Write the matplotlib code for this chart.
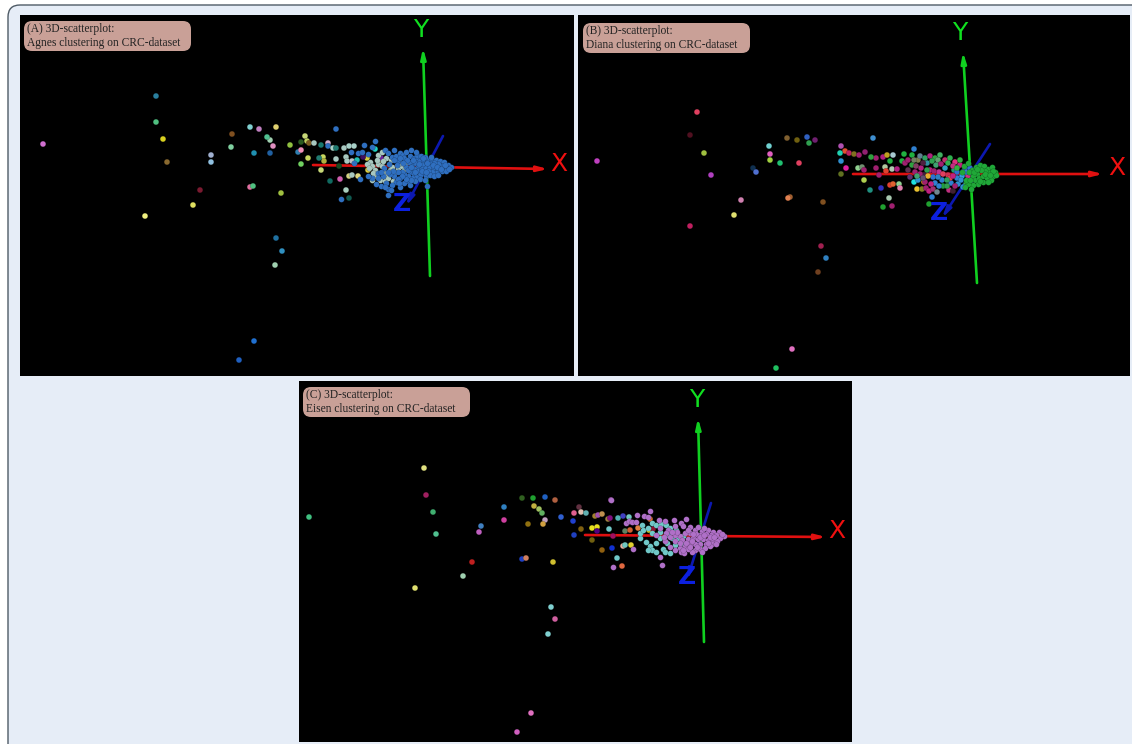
import matplotlib
matplotlib.use("Agg")
import matplotlib.pyplot as plt
from matplotlib.patches import FancyBboxPatch

# points, in image pixels of each panel
a_sparse = [(43,144),(156,96),(156,122),(163,139),(167,162),(145,216),(193,205),(200,190),(211,155),(211,162),
    (232,134),(231,147),(250,127),(259,129),(276,127),(270,140),(267,137),(273,146),(254,153),(270,153),
    (290,145),(250,187),(253,186),(281,193),(276,238),(282,251),(275,265),(254,341),(239,360),
    (336,129),(305,136),(307,141),(301,142),(309,143),(314,143),(321,145),(328,143),(328,146),(333,148),(336,148),
    (344,148),(349,146),(354,146),(375,149),(298,152),(301,150),(308,158),(301,164),(323,157),(324,161),
    (319,158),(336,159),(346,157),(347,161),(352,161),(357,160),(321,170),(339,166),(340,179),(330,181),
    (349,176),(352,175),(358,176),(346,190),(349,198),(368,170),(367,158),(363,157),(379,161),(381,158)]
a_sparse_colors = ["#d070d0","#2a7f9e","#50c080","#d8d020","#8a6a30","#f0f080","#e0e060","#7a1a30","#a0b0d0","#90c0e0",
    "#805020","#80d0a0","#80d0d0","#c080c0","#e0d070","#a0d0b0","#50c090","#e090c0","#2090b0","#2060a0",
    "#90c040","#e070a0","#50c080","#a0c040","#2070a0","#3090c0","#a0d0b0","#2070d0","#2060c0",
    "#2f6fc0","#c8d878","#c0d060","#2a5a20","#7a5a20","#a8c8c0","#1a7a70","#d0a8c8","#2f6fc0","#a8d0c8","#207a70",
    "#a8c8c0","#a8d0c8","#a8d0c8","#20d0c0","#2f7fb0","#f090b8","#c8d860","#70d060","#c8d860","#b0b040",
    "#207a70","#a8c8c0","#a8c8c0","#a8c8c0","#b8c0c8","#20c0b0","#c8d878","#1a4a20","#d060b0","#106a60",
    "#d0d080","#a8c8c0","#e0d880","#a8d0c0","#105a50","#e0d040","#d8d040","#401060","#707020","#7020a0"]
a_blue = [(351,152),(358,153),(362,152),(368,154),(364,145),(372,147),(375,141),(354,163),(360,179),(341,199),
    (388,189),(388,195),(385,150),(388,153),(392,157),(396,156),(400,153),(403,155),(406,152),(411,150),
    (398,161),(404,158),(410,156),(414,158),(418,159),(412,165),(416,163),(420,161),(424,161),(428,160),
    (432,160),(436,160),(440,161),(444,162),(448,165),(451,167),(446,168),(442,166),(438,164),(434,163),
    (430,164),(426,164),(422,165),(418,167),(414,169),(410,172),(414,174),(418,171),(422,169),(426,168),
    (430,167),(434,168),(438,170),(442,171),(446,171),(436,173),(432,172),(428,171),(424,173),(420,175),
    (416,177),(412,178),(408,176),(404,174),(400,178),(396,182),(392,185),(386,183),(381,186),(376,184),
    (408,181),(404,183),(410,185),(426,176),(430,175),(434,176),(438,175),(420,179),(425,180),(415,181),
    (402,172),(398,172),(394,176),(390,174),(406,167),(409,162),(413,160),(417,155),(421,156),(425,157),
    (431,157),(427,186),(411,180),(394,160),(389,164),(383,176),(378,173),(400,187),(416,152),(394,150),
    (400,158),(407,160),(403,163),(397,165),(408,170),(411,167),(415,172),(419,164),(423,158),(427,163),
    (433,165),(437,167),(441,169),(445,165),(449,169),(422,171),(426,172),(406,179),(402,176),(398,179),
    (393,171),(388,172),(384,168),(381,172),(378,178),(372,178),(368,176),(385,187),(391,190),(399,183)]
a_pale = [(370,162),(372,166),(375,170),(378,164),(382,166),(384,172),(386,176),(390,170),(392,167),(395,172),
    (398,168),(402,166),(404,170),(376,176),(380,180),(385,181),(388,178),(393,181),(372,180),(367,164),
    (369,168),(378,155),(382,152),(386,158),(391,160),(373,173),(400,163),(405,164),(377,160),(383,161)]

b_sparse = [(597,161),(697,112),(690,135),(704,153),(711,175),(734,215),(741,200),(690,226),(753,168),(756,172),
    (769,146),(770,154),(787,138),(797,140),(807,137),(809,143),(815,140),(790,197),(788,198),(823,202),
    (821,246),(826,258),(818,272),(792,349),(776,368),(770,160),(780,163),(799,163),
    (873,138),(841,146),(845,151),(849,153),(840,153),(854,154),(859,155),(865,152),(876,158),(871,157),
    (883,157),(887,155),(893,155),(904,154),(914,149),(912,155),(890,161),(902,161),(841,161),(858,168),
    (862,167),(864,170),(846,168),(876,168),(885,167),(886,171),(892,169),(897,169),(879,175),(864,180),
    (841,174),(870,190),(881,188),(890,185),(893,184),(899,184),(900,188),(889,198),(883,207),(892,206),
    (914,182),(917,189),(922,189),(924,182),(926,188),(929,191),(933,189),(937,192),(932,197),(929,204),
    (949,190),(953,191)]
b_sparse_colors = ["#c040c0","#e04060","#501020","#a0c040","#b040c0","#e0e070","#d080b0","#c02060","#103050","#5070d0",
    "#70d0d0","#e060c0","#806030","#706010","#3060c0","#30a050","#702070","#a06030","#e08050","#805020",
    "#a02050","#3080c0","#704020","#e070c0","#20c060","#a0d040","#20c070","#e04060",
    "#3f8fd0","#b050b0","#e05030","#c02060","#20d0b0","#807020","#a02070","#902070","#a02070","#30a040",
    "#b02080","#c0a020","#a8c8d0","#20b040","#3080d0","#20b040","#20b040","#20b040","#3090d0","#90d090",
    "#709070","#a02070","#e020a0","#a02070","#b0c8a0","#e04030","#b0c8b0","#b02080","#a02070","#b0d050",
    "#607020","#209080","#3030c0","#e04030","#e06030","#90d090","#e080b0","#a8c8b0","#20a030","#a02070",
    "#20e0e0","#e8c030","#808020","#e8a020","#a02070","#c02080","#a03070","#708890","#3080d0","#20a030",
    "#c03080","#402030"]
b_mixed = [(905,163),(908,170),(912,165),(915,172),(918,160),(921,168),(924,175),(927,163),(930,170),(933,177),
    (936,165),(939,172),(942,180),(945,168),(948,175),(951,183),(954,170),(957,178),(960,165),(963,172),
    (920,156),(925,158),(930,156),(935,158),(940,155),(945,160),(950,158),(955,162),(960,160),(910,177),
    (918,180),(925,182),(935,183),(943,186),(950,178),(958,184),(965,168),(968,176),(938,160),(928,176),
    (908,160),(914,160),(923,163),(932,161),(941,164),(948,163),(953,166),(957,172),(962,176),(966,172),
    (916,166),(920,174),(927,170),(934,171),(938,177),(943,174),(947,180),(953,176),(957,168),(961,180),
    (970,168),(972,180),(966,184),(963,187),(955,186),(947,186),(939,186),(931,184),(923,178),(917,176)]
b_mixed_colors = ["#a02070","#603050","#30a040","#a02070","#808050","#b02080","#402040","#3090a0","#c02080","#3070d0",
    "#40a070","#c03090","#3080d0","#30a0c0","#d03050","#3080d0","#20a070","#3080d0","#c02080","#3070d0",
    "#608090","#30a060","#b02080","#30a040","#40b060","#c03070","#30b050","#e03080","#30b040","#603070",
    "#3090d0","#a02070","#3080d0","#20a040","#e04050","#3090d0","#3070d0","#d03080","#60a070","#e8b030",
    "#a02070","#708060","#502040","#30a050","#a02070","#30b050","#c03080","#3070d0","#30a0e0","#3080d0",
    "#804060","#a02070","#30a050","#a02070","#3080c0","#e04060","#30a060","#c02080","#30b040","#3090d0",
    "#3070d0","#3080d0","#30b040","#3090d0","#a02070","#30a050","#3080d0","#c02080","#605070","#40a070"]
b_green = [(964,166),(968,163),(972,170),(976,167),(980,165),(984,166),(988,169),(992,167),(995,172),(993,176),
    (989,173),(985,171),(981,170),(977,174),(973,176),(969,172),(975,180),(979,178),(983,176),(987,178),
    (991,180),(983,182),(978,184),(973,185),(968,184),(971,189),(966,180),(988,182),(996,175),(962,172),
    (985,174),(980,181),(974,172),(993,171),(990,175),(977,169),(970,180),(965,187)]

c_sparse = [(309,517),(424,468),(426,495),(433,512),(436,534),(415,588),(463,576),(472,562),(479,532),(481,526),
    (504,507),(504,520),(522,498),(533,498),(545,497),(555,500),(534,506),(539,509),(542,513),(545,520),
    (528,524),(543,524),(561,517),(574,535),(522,559),(526,558),(553,562),(551,607),(555,619),(548,634),
    (531,713),(517,732),(611,500),(579,507),(574,513),(581,512),(586,513),(573,521),(595,516),(598,515),
    (602,514),(608,519),(610,518),(623,516),(629,517),(618,518),(650,519),(581,529),(592,528),(597,527),
    (597,531),(609,529),(592,540),(613,536),(625,531),(630,530),(638,528),(602,550),(612,548),(623,546),
    (625,545),(631,545),(617,558),(622,566),(649,530),(653,529)]
c_sparse_colors = ["#40c080","#e0e080","#a02060","#40b070","#50c090","#e0e070","#a0d0b0","#c02020","#c060c0","#4080c0",
    "#3080c0","#d040a0","#306020","#20a030","#2060c0","#b06040","#c0b040","#a0c060","#60b060","#c0a0c0",
    "#907010","#d0a040","#3060d0","#2040c0","#2040c0","#d08060","#d0c030","#80d0d0","#d060a0","#80d0d0",
    "#e070c0","#d060c0","#b060c0","#603040","#e06090","#e0c0b0","#60b0b0","#2040d0","#a08030","#a050b0",
    "#c09050","#a08040","#801080","#4040c0","#70c8c0","#50b0b0","#e07030","#806010","#e8e020","#e8e020",
    "#500080","#70c8c8","#706010","#a01060","#608060","#d06030","#e08040","#906010","#1030d0","#e8b0a0",
    "#70c8c0","#e0d030","#70c8c8","#e06840","#e8e020","#901030"]
c_violet = [(611,500),(633,549),(613,567),(660,557),(662,565),(637,515),(644,516),(648,517),(650,511),(626,523),
    (629,521),(632,522),(636,522),(659,520),(665,521),(674,520),(681,523),(686,519),(660,528),(668,530),
    (675,526),(683,526),(690,527),(695,530),(702,531),(708,530),(713,532),(719,532),(724,536),(720,538),
    (716,535),(711,535),(706,534),(700,535),(696,534),(690,533),(685,533),(680,536),(675,535),(670,537),
    (665,541),(675,541),(682,540),(688,539),(693,538),(698,539),(703,539),(708,540),(713,540),(717,541),
    (712,544),(706,544),(700,544),(695,544),(690,544),(685,546),(680,548),(675,550),(670,547),(695,550),
    (700,549),(705,548),(710,546),(702,552),(692,552),(688,549),(666,533),(656,535),(681,552),(684,553),
    (688,530),(693,534),(698,527),(704,528),(710,537),(714,537),(722,534),(716,544),(700,537),(692,541),
    (686,543),(680,543),(677,532),(672,532),(664,537),(697,547),(690,547),(683,550),(704,535),(708,543)]
c_teal = [(640,538),(646,542),(650,546),(652,550),(648,550),(656,552),(663,549),(665,552),(670,553),(667,543),
    (656,543),(660,538),(682,543),(675,545),(642,525),(652,523),(656,525),(661,524),(666,525),(670,528),
    (676,530),(640,533),(643,530),(648,528),(652,533),(672,538),(678,538),(683,536),(668,535),(660,532)]

a_x_axis = [(313,165),(548,169)]
a_y_axis = [(430,276),(423,48)]
a_z_axis = [(443,136),(406,206)]
b_x_axis = [(853,174),(1103,174)]
b_y_axis = [(977,283),(963,52)]
b_z_axis = [(990,144),(942,218)]
c_x_axis = [(585,535),(826,537)]
c_y_axis = [(704,642),(698,418)]
c_z_axis = [(711,503),(687,580)]

W, H = 1132, 744
plt.rcParams['font.family'] = ['Liberation Serif', 'DejaVu Serif']
fig = plt.figure(figsize=(W / 100, H / 100), dpi=100, facecolor='white')

bg = fig.add_axes([0, 0, 1, 1])
bg.set_xlim(0, W)
bg.set_ylim(H, 0)
bg.axis('off')
bg.add_patch(FancyBboxPatch((8, 5), 1200, 800, boxstyle="round,pad=0,rounding_size=12",
                            fc='#e6edf7', ec='#4f5b66', lw=1))


def add_panel(box, title, label_xy, x_axis, y_axis, z_axis, letters):
    left, top, right, bottom = box
    ax = fig.add_axes([left / W, 1 - bottom / H, (right - left) / W, (bottom - top) / H])
    ax.set_facecolor('black')
    ax.set_xlim(left, right)
    ax.set_ylim(bottom, top)
    ax.set_xticks([])
    ax.set_yticks([])
    for s in ax.spines.values():
        s.set_visible(False)

    for line, col in [(x_axis, '#e01010'), (y_axis, '#10d020'), (z_axis, '#0c18b0')]:
        ax.annotate('', xy=line[1], xytext=line[0], zorder=2,
                    arrowprops=dict(arrowstyle='-|>,head_length=0.6,head_width=0.15', color=col,
                                    lw=1.9, shrinkA=0, shrinkB=0))
    for (lx, ly, txt), col in zip(letters, ['#f01010', '#10e020', '#0c20e0']):
        ax.text(lx, ly, txt, color=col, fontsize=18, ha='center', va='center',
                family='DejaVu Sans', fontweight='bold' if txt == 'Z' else 'normal', zorder=5)
    bx, by = label_xy
    ax.add_patch(FancyBboxPatch((bx, by), 167, 30, boxstyle="round,pad=0,rounding_size=8",
                                fc='#c9a097', ec='none', zorder=6))
    ax.text(bx + 3, by + 15, title, fontsize=8.3, color='#222222', va='center', ha='left',
            linespacing=1.3, zorder=7)
    return ax


def dots(ax, pts, colors, z=3):
    xs = [p[0] for p in pts]
    ys = [p[1] for p in pts]
    ax.scatter(xs, ys, s=17, c=colors, edgecolors='#00000055', linewidths=0.3, zorder=z)


ax_a = add_panel((20, 15, 574, 376), '(A) 3D-scatterplot:\nAgnes clustering on CRC-dataset', (24, 21),
                 a_x_axis, a_y_axis, a_z_axis, [(559, 164, 'X'), (421, 30, 'Y'), (402, 204, 'Z')])
dots(ax_a, a_sparse, a_sparse_colors)
dots(ax_a, a_pale, '#a8c8c0')
dots(ax_a, a_blue, '#2f6fc0', z=4)

ax_b = add_panel((578, 15, 1130, 376), '(B) 3D-scatterplot:\nDiana clustering on CRC-dataset', (583, 23),
                 b_x_axis, b_y_axis, b_z_axis, [(1117, 168, 'X'), (960, 33, 'Y'), (939, 213, 'Z')])
dots(ax_b, b_sparse, b_sparse_colors)
dots(ax_b, b_mixed, b_mixed_colors)
dots(ax_b, b_green, '#20a838', z=4)

ax_c = add_panel((299, 381, 852, 742), '(C) 3D-scatterplot:\nEisen clustering on CRC-dataset', (303, 387),
                 c_x_axis, c_y_axis, c_z_axis, [(837, 531, 'X'), (697, 400, 'Y'), (687, 577, 'Z')])
dots(ax_c, c_sparse, c_sparse_colors)
dots(ax_c, c_teal, '#70c8c8')
dots(ax_c, c_violet, '#b070c8', z=4)

fig.savefig('out.png', dpi=100)
